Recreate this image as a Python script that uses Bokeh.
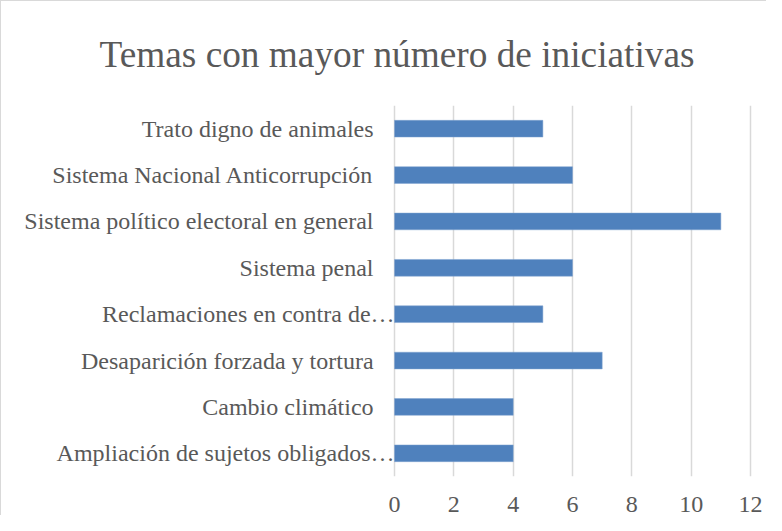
from bokeh.plotting import figure
from bokeh.models import ColumnDataSource, FixedTicker
from bokeh.core.properties import value
from bokeh.embed import file_html
from bokeh.resources import INLINE

categories = [
    "Ampliación de sujetos obligados…",
    "Cambio climático",
    "Desaparición forzada y tortura",
    "Reclamaciones en contra de…",
    "Sistema penal",
    "Sistema político electoral en general",
    "Sistema Nacional Anticorrupción",
    "Trato digno de animales",
]
values = [4, 4, 7, 5, 6, 11, 6, 5]
x_ticks = [0, 2, 4, 6, 8, 10, 12]
title_text = "Temas con mayor número de iniciativas"

FONT = "Liberation Serif"
GRAY = "#595959"

label_offsets = [0 if c.endswith("…") else -21 for c in categories]

source = ColumnDataSource(dict(
    cat=categories, val=values, zero=[0] * len(values), off=label_offsets,
))

p = figure(
    width=766, height=515,
    y_range=categories, x_range=(-13.08, 12.1),
    y_axis_location=None,
    output_backend="svg", toolbar_location=None,
    min_border_left=5, min_border_right=14, min_border_bottom=40, min_border_top=98,
)
p.styles = {"border-left": "1px solid #d9d9d9", "border-top": "1px solid #d9d9d9"}

p.title.text = title_text
p.title.text_font = FONT
p.title.text_font_size = "37.3px"
p.title.text_font_style = "normal"
p.title.text_color = GRAY
p.title.align = "left"
p.title.offset = 93
p.title.standoff = 61

p.hbar(y="cat", right="val", left=0, height=0.36, source=source,
       fill_color="#4F81BD", line_color="#7FA3D0", line_width=0.5)

p.text(x="zero", y="cat", text="cat", x_offset="off", source=source,
       text_align="right", text_baseline="middle",
       text_font=value(FONT), text_font_size="24px", text_color=GRAY)

p.ygrid.grid_line_color = None
p.xgrid.ticker = FixedTicker(ticks=x_ticks)
p.xgrid.grid_line_color = "#d9d9d9"
p.xgrid.grid_line_width = 1.5
p.outline_line_color = None

xa = p.xaxis[0]
xa.ticker = FixedTicker(ticks=x_ticks)
xa.axis_line_color = None
xa.major_tick_line_color = None
xa.minor_tick_line_color = None
xa.major_label_text_font = FONT
xa.major_label_text_font_size = "24px"
xa.major_label_text_color = GRAY
xa.major_label_standoff = 14

p.background_fill_color = "white"
p.border_fill_color = "white"

open("out.html", "w").write(file_html(p, INLINE))
